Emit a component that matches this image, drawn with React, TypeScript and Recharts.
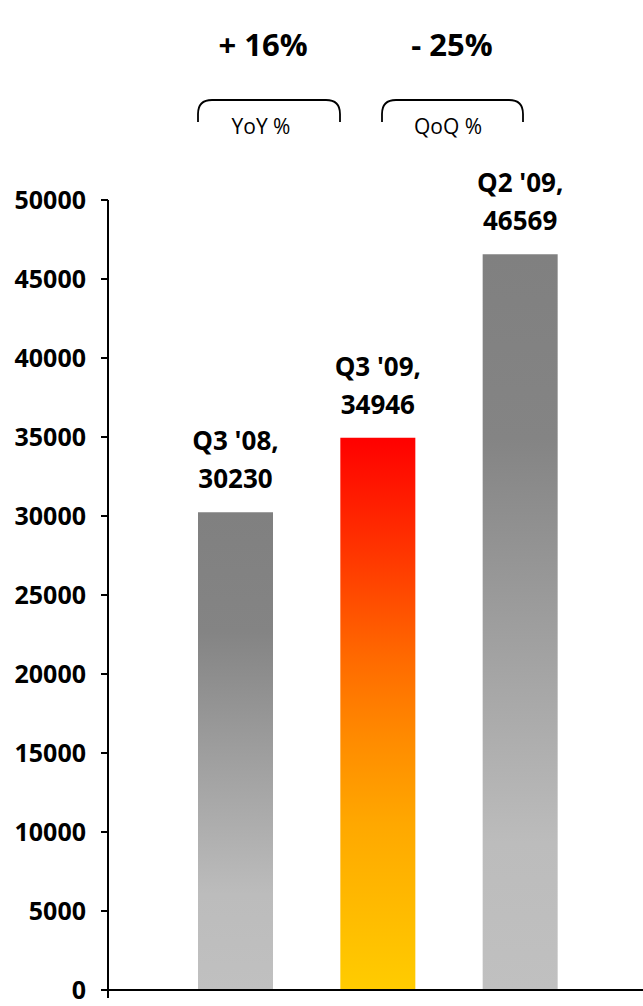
import React from 'react';
import { BarChart, Bar, XAxis, YAxis, Cell, LabelList, Customized } from 'recharts';

const quarters = ["Q3 '08", "Q3 '09", "Q2 '09"];
const revenue = [30230, 34946, 46569];
const yTicks = [0, 5000, 10000, 15000, 20000, 25000, 30000, 35000, 40000, 45000, 50000];
const changeValues = ['+ 16%', '- 25%'];
const changeNames = ['YoY %', 'QoQ %'];

const data = quarters.map((q, i) => ({ quarter: q, value: revenue[i] }));

const FONT = '"Open Sans", "Noto Sans", sans-serif';

const BarLabel = (props: any) => {
  const { x, y, width, index } = props;
  const cx = x + width / 2;
  return (
    <g>
      <text x={cx} y={y - 62} textAnchor="middle" fontFamily={FONT} fontWeight={700} fontSize={26} fill="#000">
        {quarters[index] + ','}
      </text>
      <text x={cx} y={y - 24} textAnchor="middle" fontFamily={FONT} fontWeight={700} fontSize={26} fill="#000">
        {revenue[index]}
      </text>
    </g>
  );
};

// brackets + yoy / qoq headline above the plot
const Annotations = () => {
  const groups = [
    { left: 198, right: 340, center: 263, sub: 261 },
    { left: 382, right: 523, center: 452, sub: 448 },
  ];
  return (
    <g>
      {groups.map((g, i) => (
        <g key={i}>
          <text x={g.center} y={56} textAnchor="middle" fontFamily={FONT} fontWeight={700} fontSize={31} fill="#000">
            {changeValues[i]}
          </text>
          <path
            d={`M${g.left},122 L${g.left},114 Q${g.left},100 ${g.left + 14},100 L${g.right - 14},100 Q${g.right},100 ${g.right},114 L${g.right},122`}
            fill="none"
            stroke="#000"
            strokeWidth={1.8}
          />
          <text x={g.sub} y={134} textAnchor="middle" fontFamily={FONT} fontSize={21} fill="#000">
            {changeNames[i]}
          </text>
        </g>
      ))}
      <line x1={108} y1={989} x2={108} y2={998} stroke="#000" strokeWidth={2} />
    </g>
  );
};

export default function App() {
  return (
    <div style={{ position: 'absolute', left: 0, top: 0, width: 643, height: 1006, background: '#fff' }}>
      <BarChart width={643} height={1006} data={data} margin={{ top: 200, right: 0, bottom: 0, left: 0 }}>
        <defs>
          <linearGradient id="grayGrad" x1="0" y1="0" x2="0" y2="1">
            <stop offset="0%" stopColor="#808080" />
            <stop offset="25%" stopColor="#848484" />
            <stop offset="80%" stopColor="#bcbcbc" />
            <stop offset="100%" stopColor="#c0c0c0" />
          </linearGradient>
          <linearGradient id="hotGrad" x1="0" y1="0" x2="0" y2="1">
            <stop offset="0%" stopColor="#ff0000" />
            <stop offset="20%" stopColor="#ff3300" />
            <stop offset="40%" stopColor="#ff6a00" />
            <stop offset="55%" stopColor="#ff8c00" />
            <stop offset="70%" stopColor="#ffa800" />
            <stop offset="100%" stopColor="#ffcc00" />
          </linearGradient>
        </defs>
        <XAxis
          dataKey="quarter"
          tick={false}
          tickLine={false}
          axisLine={{ stroke: '#000', strokeWidth: 2 }}
          padding={{ left: 56, right: 52 }}
          height={16}
        />
        <YAxis
          domain={[0, 50000]}
          ticks={yTicks}
          interval={0}
          width={108}
          tickSize={7}
          tickMargin={15}
          axisLine={{ stroke: '#000', strokeWidth: 2 }}
          tickLine={{ stroke: '#000', strokeWidth: 2 }}
          tick={{ fill: '#000', fontSize: 25, fontWeight: 700, fontFamily: FONT }}
        />
        <Bar dataKey="value" barSize={75} isAnimationActive={false}>
          {data.map((d, i) => (
            <Cell key={d.quarter} fill={i === 1 ? 'url(#hotGrad)' : 'url(#grayGrad)'} />
          ))}
          <LabelList dataKey="value" content={BarLabel} />
        </Bar>
        <Customized component={Annotations} />
      </BarChart>
    </div>
  );
}
